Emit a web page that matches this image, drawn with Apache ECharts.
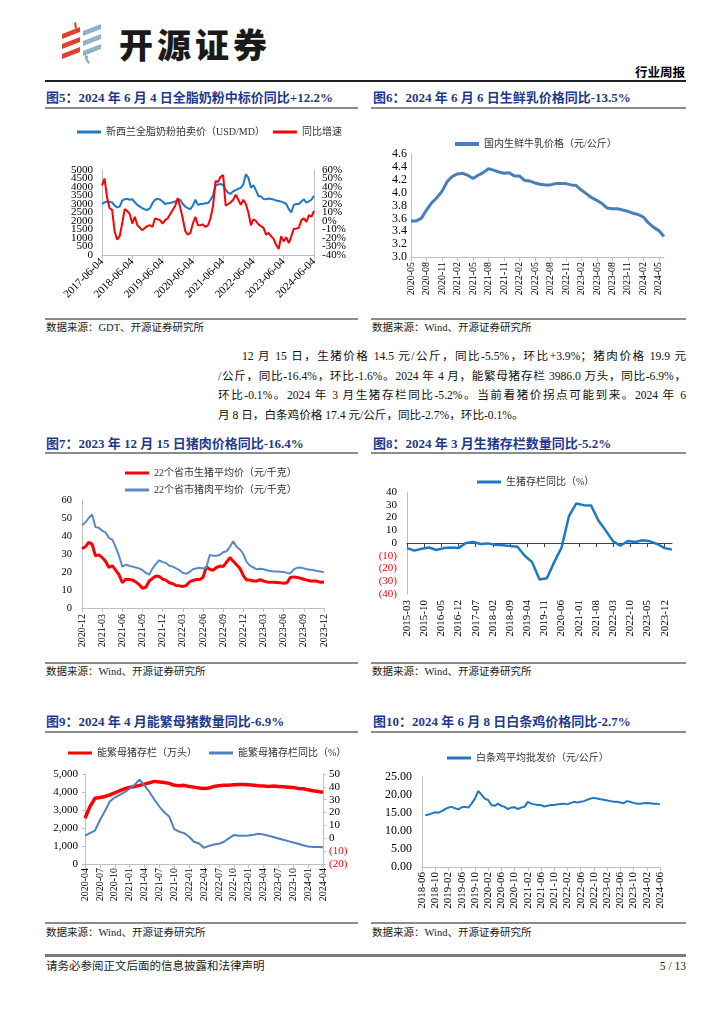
<!DOCTYPE html>
<html><head><meta charset="utf-8">
<script src="https://cdn.jsdelivr.net/npm/echarts@6/dist/echarts.min.js"></script>
<style>
html,body{margin:0;padding:0;background:#fff;}
body{width:724px;height:1024px;position:relative;overflow:hidden;font-family:'Liberation Serif','Noto Sans CJK SC',serif;color:#000;}
.a{position:absolute;}
.ttl{font-size:13px;font-weight:bold;color:#1f3a8a;line-height:16px;white-space:nowrap;}
.sep{height:2px;background:#8c8c8c;}
.src{font-size:10.5px;line-height:14px;color:#222;white-space:nowrap;}
.pl{font-size:11.6px;line-height:19.5px;height:19.5px;white-space:nowrap;text-align:justify;text-align-last:justify;color:#111;}
.ch{position:absolute;}
</style></head>
<body>
<!-- header -->
<svg class="a" style="left:58px;top:22px" width="48" height="44" viewBox="0 0 48 44">
  <g fill="#e0402f">
    <polygon points="16,1 18,0 19,6 17,7"/>
    <polygon points="4,12 22,5 22,10 4,17"/>
    <polygon points="4,22 22,15 22,20 4,27"/>
    <polygon points="4,32 22,25 22,30 4,37"/>
  </g>
  <g fill="#8fb2c6">
    <polygon points="25,9 43,2 43,7 25,14"/>
    <polygon points="25,19 43,12 43,17 25,24"/>
    <polygon points="25,29 43,22 43,27 25,34"/>
    <path d="M27,33 Q26,39 31,42 L32,40 Q29,38 30,34 Z"/>
  </g>
</svg>
<div class="a" style="left:119px;top:22px;font-family:'Noto Sans CJK SC',sans-serif;font-weight:900;font-size:34px;line-height:44px;letter-spacing:4px;color:#1a1a1a;">开源证券</div>
<div class="a" style="left:560px;width:125px;top:66px;text-align:right;font-size:12.5px;font-weight:bold;line-height:15px;">行业周报</div>
<div class="a" style="left:45px;top:80px;width:641px;height:2px;background:#222;"></div>

<div class="a ttl" style="left:46px;top:90px;">图5：2024 年 6 月 4 日全脂奶粉中标价同比+12.2%</div>
<div class="a ttl" style="left:373px;top:90px;">图6：2024 年 6 月 6 日生鲜乳价格同比-13.5%</div>
<div class="a sep" style="left:45px;top:107px;width:313px;"></div>
<div class="a sep" style="left:371px;top:107px;width:315px;"></div>

<div id="c5" class="ch" style="left:45px;top:110px;width:313px;height:207px;"></div>
<div id="c6" class="ch" style="left:370px;top:110px;width:316px;height:207px;"></div>

<div class="a sep" style="left:45px;top:318px;width:313px;"></div>
<div class="a sep" style="left:371px;top:318px;width:315px;"></div>
<div class="a src" style="left:46px;top:321px;">数据来源：GDT、开源证券研究所</div>
<div class="a src" style="left:372px;top:321px;">数据来源：Wind、开源证券研究所</div>

<div class="a" style="left:218px;top:347px;width:468px;">
  <div class="pl" style="padding-left:24px;">12 月 15 日，生猪价格 14.5 元/公斤，同比-5.5%，环比+3.9%；猪肉价格 19.9 元</div>
  <div class="pl">/公斤，同比-16.4%，环比-1.6%。2024 年 4 月，能繁母猪存栏 3986.0 万头，同比-6.9%，</div>
  <div class="pl">环比-0.1%。2024 年 3 月生猪存栏同比-5.2%。当前看猪价拐点可能到来。2024 年 6</div>
  <div class="pl" style="text-align:left;text-align-last:left;">月 8 日，白条鸡价格 17.4 元/公斤，同比-2.7%，环比-0.1%。</div>
</div>

<div class="a ttl" style="left:46px;top:436px;">图7：2023 年 12 月 15 日猪肉价格同比-16.4%</div>
<div class="a ttl" style="left:373px;top:436px;">图8：2024 年 3 月生猪存栏数量同比-5.2%</div>
<div class="a sep" style="left:45px;top:452px;width:313px;"></div>
<div class="a sep" style="left:371px;top:452px;width:315px;"></div>

<div id="c7" class="ch" style="left:45px;top:455px;width:313px;height:206px;"></div>
<div id="c8" class="ch" style="left:370px;top:455px;width:316px;height:206px;"></div>

<div class="a sep" style="left:45px;top:662px;width:313px;"></div>
<div class="a sep" style="left:371px;top:662px;width:315px;"></div>
<div class="a src" style="left:46px;top:665px;">数据来源：Wind、开源证券研究所</div>
<div class="a src" style="left:372px;top:665px;">数据来源：Wind、开源证券研究所</div>

<div class="a ttl" style="left:46px;top:714px;">图9：2024 年 4 月能繁母猪数量同比-6.9%</div>
<div class="a ttl" style="left:373px;top:714px;">图10：2024 年 6 月 8 日白条鸡价格同比-2.7%</div>
<div class="a sep" style="left:45px;top:731px;width:313px;"></div>
<div class="a sep" style="left:371px;top:731px;width:315px;"></div>

<div id="c9" class="ch" style="left:45px;top:733px;width:313px;height:189px;"></div>
<div id="c10" class="ch" style="left:370px;top:733px;width:316px;height:189px;"></div>

<div class="a sep" style="left:45px;top:922px;width:313px;"></div>
<div class="a sep" style="left:371px;top:922px;width:315px;"></div>
<div class="a src" style="left:46px;top:926px;">数据来源：Wind、开源证券研究所</div>
<div class="a src" style="left:372px;top:926px;">数据来源：Wind、开源证券研究所</div>

<div class="a" style="left:45px;top:954px;width:641px;height:3px;background:#7a7a7a;"></div>
<div class="a" style="left:46px;top:959px;font-size:11.5px;line-height:15px;color:#222;">请务必参阅正文后面的信息披露和法律声明</div>
<div class="a" style="left:600px;width:86px;top:959px;text-align:right;font-size:11.5px;line-height:15px;color:#222;">5 / 13</div>

<script>
// ---------- helpers for category labels ----------
function months(y, m, n, suffix) {
  const out = [];
  for (let i = 0; i < n; i++) {
    const t = y * 12 + (m - 1) + i;
    out.push(Math.floor(t / 12) + '-' + String(t % 12 + 1).padStart(2, '0') + (suffix || ''));
  }
  return out;
}

// ---------- Figure 5 data: GDT whole milk powder ----------
const gdtDates = months(2017, 6, 85, '-04');
const gdtPrice = [3000,3100,3150,3120,3100,2900,2800,2850,3200,3280,
  3300,3250,3280,3100,2950,2850,2750,2680,2650,2750,
  3050,3250,3300,3270,3150,3000,3050,3050,3100,3150,
  3200,3250,3000,2850,2750,2700,2900,3250,2950,3000,
  3000,3050,3050,3250,3500,4100,4150,4180,4100,3850,
  3650,3600,3750,3820,3900,3950,4150,4750,4550,3950,
  4100,3800,3450,3450,3300,3280,3320,3300,3270,3200,
  3180,3140,3080,3000,2700,2500,2950,3000,3000,3150,
  3280,3080,3150,3250,3480];
const gdtYoY = [42,50,28,15,13,-12,-22,-18,-3,14,
  12,8,-3,5,-5,-8,-11,-8,-6,-5,
  -7,3,2,1,-3,1,3,8,13,18,
  27,16,3,-12,-16,-14,-3,5,-5,-5,
  -4,-7,-5,3,18,47,46,52,54,18,
  20,22,25,31,25,19,25,20,10,-5,
  2,0,-4,-6,-8,-16,-14,-18,-21,-28,
  -33,-18,-24,-19,-26,-18,-9,-9,-8,1,
  3,-1,7,5,12];
// tick labels of figure 5 (split in two interleaved sets so none overlap)
const gdtPriceTicksA = [0, 1000, 2000, 3000, 4000, 5000];
const gdtPriceTicksB = [500, 1500, 2500, 3500, 4500];
const gdtYoYTicksA = [-40, -20, 0, 20, 40, 60];
const gdtYoYTicksB = [-30, -10, 10, 30, 50];

// ---------- Figure 6 data: raw milk price ----------
const milkMonths = months(2020, 5, 50);
const milkPrice = [3.56,3.56,3.60,3.73,3.84,3.92,4.02,4.17,4.25,4.29,
  4.30,4.27,4.22,4.27,4.31,4.37,4.35,4.32,4.30,4.31,
  4.26,4.26,4.19,4.18,4.15,4.13,4.12,4.12,4.14,4.14,
  4.14,4.12,4.11,4.04,3.98,3.92,3.88,3.83,3.76,3.75,
  3.75,3.73,3.71,3.68,3.66,3.62,3.53,3.46,3.41,3.32];

// ---------- Figure 7 data: hog & pork price (half-monthly) ----------
const pigHalfMonths = months(2020, 12, 37).flatMap(function (d) { return [d + '-上', d + '-下']; }).slice(0, 73);
const hogPrice = [33,34,36.5,35.5,29,29.5,28,26,22.5,23.5,
  21,18.5,14,16,15.8,15.5,14.5,13,11,11.5,
  15,16.5,17.8,17.5,16,15.5,14,13.5,12.5,12.3,
  12,12.5,14.5,15.3,15.8,15.8,17,23,21.5,21,
  22.5,23.3,23,25.5,28,26,24,22,18,15.5,
  15.5,15,15,15.8,15,14.5,14.3,14.3,14.2,14,
  13.8,14,17,17.3,17,16.5,16,15.5,15,15,
  14.8,14.3,14.5];
const porkPrice = [46,47.5,50,52,45,44.5,43,42,39,38,
  34,29,23,24,23.5,23,22.5,22,21,19.5,
  18.5,22,24.5,26.5,25.5,25,23.5,23,22,21,
  19.5,19,20,21.5,22,22.3,22,22.5,29.5,29,
  29,29.5,31,31.5,34,37,34,32.5,30,25.5,
  23.5,22.5,21.5,21.8,21.5,21,20.5,20.3,20.3,20.2,
  20,19.5,19.2,21.5,22.3,22.5,22,21.5,21.3,21,
  20.5,20.3,19.8];

// ---------- Figure 8 data: hog inventory YoY (quarterly) ----------
const stockMonths = months(2015, 3, 109);
const hogStockYoY = [-4,-6,-4.5,-3.5,-5.5,-4,-3.5,-4,0,0.8,
  -0.8,-0.3,-1.3,-1.8,-2.3,-3,-10,-15,-28.7,-27.6,
  -15,-3.5,21,31,29.7,29.5,17.6,9.7,1.3,-2.1,
  1.6,0.8,2.1,1.3,-0.8,-4,-5.2];

// ---------- Figure 9 data: breeding sows ----------
const sowMonths = months(2020, 4, 49);
const sowStock = [2540,3190,3650,3690,3750,3840,3950,4070,4180,4250,
  4310,4370,4440,4510,4590,4560,4530,4480,4370,4350,
  4370,4310,4270,4220,4200,4220,4310,4350,4370,4380,
  4400,4420,4420,4400,4380,4350,4330,4310,4330,4310,
  4290,4270,4250,4200,4180,4120,4070,4030,3986];
const sowYoY = [2,4,6,14,21,28.6,31.7,33.8,35.9,38.5,
  41.6,45.6,41,36,30,24.7,20.2,16.8,7.2,5.1,
  4,1.2,-2.7,-4,-7.4,-5.9,-4.8,-4.3,-2.7,-0.1,
  2.5,2,2,2.2,2.7,3.5,3,2,1,-0.1,
  -1.2,-2.2,-3.3,-4.3,-5.4,-6.4,-6.7,-6.7,-6.9];

// ---------- Figure 10 data: broiler wholesale price ----------
const chickenMonths = months(2018, 6, 73);
const chickenPrice = [null,14.4,14.6,14.9,15.2,15.1,15.5,16.1,16.5,16.7,
  16.3,16.0,16.6,16.7,16.5,17.6,19.0,21.1,20.1,19.0,
  18.6,17.2,17.0,17.6,17.0,16.7,16.1,16.5,16.6,16.1,
  16.5,16.7,18.1,17.6,17.4,17.2,17.2,16.8,17.0,17.2,
  17.2,17.4,17.5,17.6,17.4,17.8,18.1,17.9,18.1,18.3,
  18.7,19.0,19.2,19.0,18.8,18.7,18.5,18.3,18.1,18.1,
  17.9,17.7,18.3,18.1,17.8,17.6,17.6,17.7,17.8,17.7,
  17.6,17.6,17.4];

// ---------- styles ----------
const NUM = "'Liberation Serif','Times New Roman',serif";
const MIX = "'Liberation Serif','Noto Sans CJK SC',serif";
const AX = '#bfbfbf';
function lbl(size, extra) {
  return Object.assign({ fontFamily: NUM, fontSize: size, color: '#000' }, extra || {});
}
function vlbl(size, extra) {
  return Object.assign({ fontFamily: NUM, fontSize: size, color: '#000',
    showMinLabel: true, showMaxLabel: true }, extra || {});
}
function legendStyle(extra) {
  return Object.assign({ icon: 'rect', itemWidth: 24, itemHeight: 3, itemGap: 10,
    textStyle: { fontFamily: MIX, fontSize: 10, color: '#333' } }, extra);
}
function paren(v) { return v < 0 ? '(' + Math.abs(v) + ')' : String(v); }
function negRed(v) { return Number(v) < 0 ? '#ff0000' : '#000'; }
function init(id) { return echarts.init(document.getElementById(id), null, { renderer: 'canvas' }); }

// Figure 5
function labelAxis(min, max, pos, values, margin, fmt, withLine) {
  return { type: 'value', min: min, max: max, position: pos, splitLine: { show: false },
    axisLine: { show: withLine, lineStyle: { color: AX } }, axisTick: { show: false },
    axisLabel: { customValues: values, fontFamily: NUM, fontSize: 11, color: '#000', margin: margin, formatter: fmt } };
}
const plain = function (v) { return String(v); };
const pct = function (v) { return v + '%'; };
init('c5').setOption({
  animation: false,
  legend: legendStyle({ left: 27, top: 12, itemGap: 8 }),
  grid: { left: 57, top: 60, width: 212, height: 85 },
  xAxis: { type: 'category', data: gdtDates, boundaryGap: false,
    axisLine: { lineStyle: { color: AX } },
    axisTick: { interval: 11, length: 4, lineStyle: { color: AX } },
    axisLabel: lbl(11, { interval: 11, rotate: 45, margin: 5 }) },
  yAxis: [
    labelAxis(0, 5000, 'left', gdtPriceTicksA, 9, plain, true),
    labelAxis(-40, 60, 'right', gdtYoYTicksA, 8, pct, true),
    labelAxis(0, 5000, 'left', gdtPriceTicksB, 9, plain, false),
    labelAxis(-40, 60, 'right', gdtYoYTicksB, 8, pct, false)
  ],
  series: [
    { name: '新西兰全脂奶粉拍卖价（USD/MD）', type: 'line', data: gdtPrice, symbol: 'none',
      lineStyle: { color: '#1f78c3', width: 2 }, itemStyle: { color: '#1f78c3' } },
    { name: '同比增速', type: 'line', yAxisIndex: 1, data: gdtYoY, symbol: 'none',
      lineStyle: { color: '#ff0000', width: 2 }, itemStyle: { color: '#ff0000' } }
  ]
});

// Figure 6
init('c6').setOption({
  animation: false,
  legend: legendStyle({ left: 80, top: 24, itemHeight: 4 }),
  grid: { left: 41, top: 44, width: 253, height: 103 },
  xAxis: { type: 'category', data: milkMonths, boundaryGap: false,
    axisLine: { lineStyle: { color: AX } },
    axisTick: { interval: 2, length: 4, lineStyle: { color: AX } },
    axisLabel: lbl(10, { interval: 2, rotate: 90, margin: 5 }) },
  yAxis: { type: 'value', min: 3.0, max: 4.6, interval: 0.2, splitLine: { show: false },
    axisLine: { show: true, lineStyle: { color: AX } }, axisTick: { show: false },
    axisLabel: vlbl(12, { margin: 4, formatter: function (v) { return v.toFixed(1); } }) },
  series: [{ name: '国内生鲜牛乳价格（元/公斤）', type: 'line', data: milkPrice, symbol: 'none',
    lineStyle: { color: '#4a7ebb', width: 3 }, itemStyle: { color: '#4a7ebb' } }]
});

// Figure 7
init('c7').setOption({
  animation: false,
  legend: legendStyle({ left: 75, top: 8, orient: 'vertical', itemGap: 7 }),
  grid: { left: 37, top: 45, width: 242, height: 108 },
  xAxis: { type: 'category', data: pigHalfMonths, boundaryGap: false,
    axisLine: { lineStyle: { color: AX } },
    axisTick: { interval: 5, length: 4, lineStyle: { color: AX } },
    axisLabel: lbl(10, { interval: 5, rotate: 90, margin: 6, formatter: function (v) { return v.slice(0, 7); } }) },
  yAxis: { type: 'value', min: 0, max: 60, interval: 10, splitLine: { show: false },
    axisLine: { show: true, lineStyle: { color: AX } }, axisTick: { show: false },
    axisLabel: vlbl(10.5, { margin: 10 }) },
  series: [
    { name: '22个省市生猪平均价（元/千克）', type: 'line', data: hogPrice, symbol: 'none',
      lineStyle: { color: '#ff0000', width: 3 }, itemStyle: { color: '#ff0000' } },
    { name: '22个省市猪肉平均价（元/千克）', type: 'line', data: porkPrice, symbol: 'none',
      lineStyle: { color: '#5a8ac6', width: 2 }, itemStyle: { color: '#5a8ac6' } }
  ]
});

// Figure 8
const hogStockSeries = stockMonths.map(function (d, i) { return i % 3 === 0 ? hogStockYoY[i / 3] : null; });
init('c8').setOption({
  animation: false,
  legend: legendStyle({ left: 102, top: 17 }),
  grid: { left: 37, top: 37, width: 265, height: 102 },
  xAxis: [
    { type: 'category', data: stockMonths, boundaryGap: false,
      axisLine: { show: false, onZero: false }, axisTick: { show: false },
      axisLabel: lbl(11, { interval: 6, rotate: 90, margin: 6 }) },
    { type: 'category', data: stockMonths, boundaryGap: false, position: 'bottom',
      axisLine: { show: true, onZero: true, lineStyle: { color: '#404040' } },
      axisTick: { show: true, interval: 6, length: 4, lineStyle: { color: '#404040' } },
      axisLabel: { show: false } }
  ],
  yAxis: { type: 'value', min: -40, max: 40, interval: 10, splitLine: { show: false },
    axisLine: { show: true, onZero: false, lineStyle: { color: AX } }, axisTick: { show: false },
    axisLabel: vlbl(11, { margin: 10, formatter: paren, color: negRed }) },
  series: [{ name: '生猪存栏同比（%）', type: 'line', data: hogStockSeries, connectNulls: true, symbol: 'none',
    lineStyle: { color: '#1f78c3', width: 2.5 }, itemStyle: { color: '#1f78c3' } }]
});

// Figure 9
init('c9').setOption({
  animation: false,
  legend: legendStyle({ left: 18, top: 10, itemGap: 12 }),
  grid: { left: 40, top: 41, width: 238, height: 90 },
  xAxis: { type: 'category', data: sowMonths, boundaryGap: false,
    axisLine: { lineStyle: { color: AX } },
    axisTick: { interval: 2, length: 4, lineStyle: { color: AX } },
    axisLabel: lbl(10, { interval: 2, rotate: 90, margin: 4 }) },
  yAxis: [
    { type: 'value', min: 0, max: 5000, interval: 1000, splitLine: { show: false },
      axisLine: { show: true, lineStyle: { color: AX } }, axisTick: { show: true, length: 3, lineStyle: { color: AX } },
      axisLabel: vlbl(11, { margin: 7, formatter: function (v) { return v.toLocaleString('en-US'); } }) },
    { type: 'value', min: -20, max: 50, interval: 10, position: 'right', splitLine: { show: false },
      axisLine: { show: true, lineStyle: { color: AX } }, axisTick: { show: true, length: 3, lineStyle: { color: AX } },
      axisLabel: vlbl(11, { margin: 6, formatter: paren, color: negRed }) }
  ],
  series: [
    { name: '能繁母猪存栏（万头）', type: 'line', data: sowStock, symbol: 'none',
      lineStyle: { color: '#ff0000', width: 3.5 }, itemStyle: { color: '#ff0000' } },
    { name: '能繁母猪存栏同比（%）', type: 'line', yAxisIndex: 1, data: sowYoY, symbol: 'none',
      lineStyle: { color: '#4f81bd', width: 2 }, itemStyle: { color: '#4f81bd' } }
  ]
});

// Figure 10
init('c10').setOption({
  animation: false,
  legend: legendStyle({ left: 72, top: 15 }),
  grid: { left: 52, top: 44, width: 238, height: 90 },
  xAxis: { type: 'category', data: chickenMonths, boundaryGap: false,
    axisLine: { lineStyle: { color: AX } },
    axisTick: { interval: 3, length: 4, lineStyle: { color: AX } },
    axisLabel: lbl(11, { interval: 3, rotate: 90, margin: 5 }) },
  yAxis: { type: 'value', min: 0, max: 25, interval: 5, splitLine: { show: false },
    axisLine: { show: true, lineStyle: { color: AX } }, axisTick: { show: false },
    axisLabel: vlbl(12, { margin: 10, formatter: function (v) { return v.toFixed(2); } }) },
  series: [{ name: '白条鸡平均批发价（元/公斤）', type: 'line', data: chickenPrice, symbol: 'none',
    lineStyle: { color: '#1f78c3', width: 2 }, itemStyle: { color: '#1f78c3' } }]
});
</script>
</body></html>
